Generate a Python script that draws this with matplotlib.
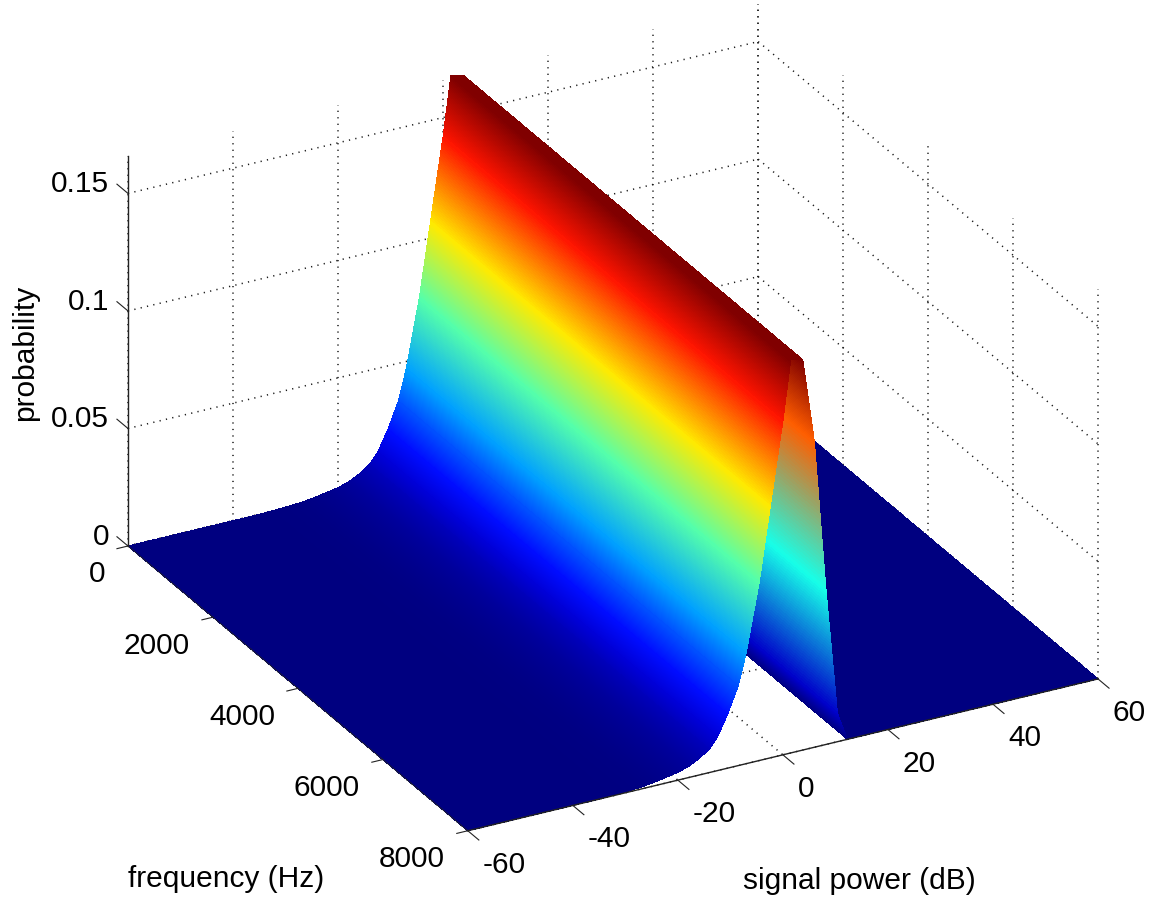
import numpy as np
import matplotlib
matplotlib.use("Agg")
import matplotlib.pyplot as plt
from matplotlib.colors import LinearSegmentedColormap
from mpl_toolkits.mplot3d import proj3d

plt.rcParams['font.family'] = ['Liberation Sans', 'DejaVu Sans']

# Data
power_db = [-60, -35, -30, -27, -24.5, -22, -20, -18, -16, -14, -12.4, -10.5, -8.5,
            -7, -4.5, -2.4, 0, 1.5, 3.8, 6.0, 8.2, 10.4, 12.3, 60]
probability = [0, 0, 0.0004, 0.0008, 0.0015, 0.0025, 0.0033, 0.0047, 0.0069, 0.010,
               0.0145, 0.023, 0.034, 0.047, 0.076, 0.107, 0.142, 0.1672, 0.166,
               0.13, 0.066, 0.012, 0, 0]
frequency_edges = [0, 8000]

power_ticks = [-60, -40, -20, 0, 20, 40, 60]
freq_ticks = [0, 2000, 4000, 6000, 8000]
prob_ticks = [0, 0.05, 0.1, 0.15]
prob_tick_labels = ['0', '0.05', '0.1', '0.15']
prob_top = 0.166

W, H = 1155, 903
FS = 21.5
fig = plt.figure(figsize=(W / 100, H / 100), dpi=100, facecolor='white')
ax = fig.add_axes([0, 0, 1, 1], projection='3d', computed_zorder=False)
ax.set_proj_type('ortho')
ax.set_box_aspect((715, 719, 436.7))
ax.view_init(elev=26.7, azim=241.8)
ax.set_xlim(power_ticks[0], power_ticks[-1])
ax.set_ylim(freq_ticks[-1], freq_ticks[0])
ax.set_zlim(0, prob_top)
ax.set_axis_off()
ax.patch.set_visible(False)


def to_pixels(x, y, z):
    xs, ys, _ = proj3d.proj_transform(x, y, z, ax.get_proj())
    px, py = ax.transData.transform((xs, ys))
    return px, H - py


# Fit the projected box on the reference's pixel frame
ax.apply_aspect()
p0 = to_pixels(power_ticks[0], freq_ticks[0], 0)
p1 = to_pixels(power_ticks[-1], freq_ticks[-1], 0)
scale = (1098 - 128) / (p1[0] - p0[0])
new_w = ax.get_position().width * W * scale
fx, fy = ax.transAxes.inverted().transform((p0[0], H - p0[1]))
ax.set_position([(128 - fx * new_w) / W, ((H - 547) - fy * new_w) / H,
                 new_w / W, new_w / H])
ax.apply_aspect()

# Dotted grid on the two walls and the floor
grid = dict(color='#1a1a1a', lw=1.1, ls=(0, (0.8, 3.45)), zorder=1)
pmin, pmax = power_ticks[0], power_ticks[-1]
fmin, fmax = freq_ticks[0], freq_ticks[-1]
for p in power_ticks:
    ax.plot([p, p], [fmin, fmin], [0, prob_top], **grid)
    ax.plot([p, p], [fmin, fmax], [0, 0], **grid)
for f in freq_ticks:
    ax.plot([pmax, pmax], [f, f], [0, prob_top], **grid)
    ax.plot([pmin, pmax], [f, f], [0, 0], **grid)
for z in prob_ticks:
    ax.plot([pmin, pmax], [fmin, fmin], [z, z], **grid)
    ax.plot([pmax, pmax], [fmin, fmax], [z, z], **grid)

# MATLAB's jet (matplotlib's differs slightly around yellow and red)
jet = LinearSegmentedColormap.from_list('matlab_jet', [
    (0.0, (0, 0, 0.5)), (0.125, (0, 0, 1)), (0.375, (0, 1, 1)),
    (0.625, (1, 1, 0)), (0.875, (1, 0, 0)), (1.0, (0.5, 0, 0))], N=512)

# Surface: one sheet per table interval, painted from far to near, with the
# colour blended between table rows (interpolated shading)
order = 10
for i in reversed(range(len(power_db) - 1)):
    steps = 40
    t = np.linspace(0, 1, steps + 1)
    xs = power_db[i] + t * (power_db[i + 1] - power_db[i])
    zs = probability[i] + t * (probability[i + 1] - probability[i])
    c0 = np.array(jet(probability[i] / prob_top))
    c1 = np.array(jet(probability[i + 1] / prob_top))
    tm = (t + 0.5 / steps)[:, None]
    cols = np.clip(c0 + (c1 - c0) * tm, 0, 1)
    X, Y = np.meshgrid(xs, frequency_edges)
    Z = np.vstack([zs, zs])
    ax.plot_surface(X, Y, Z, facecolors=np.stack([cols, cols]), shade=False,
                    linewidth=0, antialiased=False, rcount=2, ccount=steps + 1,
                    zorder=order)
    order += 1

# Solid axes and tick marks
axis = dict(color='#222222', lw=1.0, zorder=100)
tick = dict(color='#222222', lw=0.8, zorder=100)
ax.plot([pmin, pmin], [fmin, fmin], [0, prob_top], **axis)
ax.plot([pmin, pmax], [fmax, fmax], [0, 0], **axis)
ax.plot([pmin, pmin], [fmin, fmax], [0, 0], color='#222222', lw=0.6, zorder=100)
for p in power_ticks:
    ax.plot([p, p], [fmax, fmax + 260], [0, 0], **tick)
for f in freq_ticks:
    ax.plot([pmin, pmin - 2.1], [f, f], [0, 0], **tick)
for z in prob_ticks:
    ax.plot([pmin, pmin], [fmin, fmin - 260], [z, z], **tick)


def label(px, py, s, **kw):
    fig.text(px / W, 1 - py / H, s, fontsize=FS, color='black', **kw)


for p in power_ticks:
    a = to_pixels(p, fmax, 0)
    label(a[0] + 15, a[1] + 33, str(p), ha='left', va='center')
for f in freq_ticks:
    a = to_pixels(pmin, f, 0)
    label(a[0] - 23, a[1] + 27.5, str(f), ha='right', va='center')
for z, s in zip(prob_ticks, prob_tick_labels):
    a = to_pixels(pmin, fmin, z)
    label(a[0] - 19, a[1] - 10, s, ha='right', va='center')

label(226, 879, 'frequency (Hz)', ha='center', va='center')
label(859, 881, 'signal power (dB)', ha='center', va='center')
label(25, 353, 'probability', ha='center', va='center', rotation=90)

fig.savefig('out.png', dpi=100, facecolor='white')
